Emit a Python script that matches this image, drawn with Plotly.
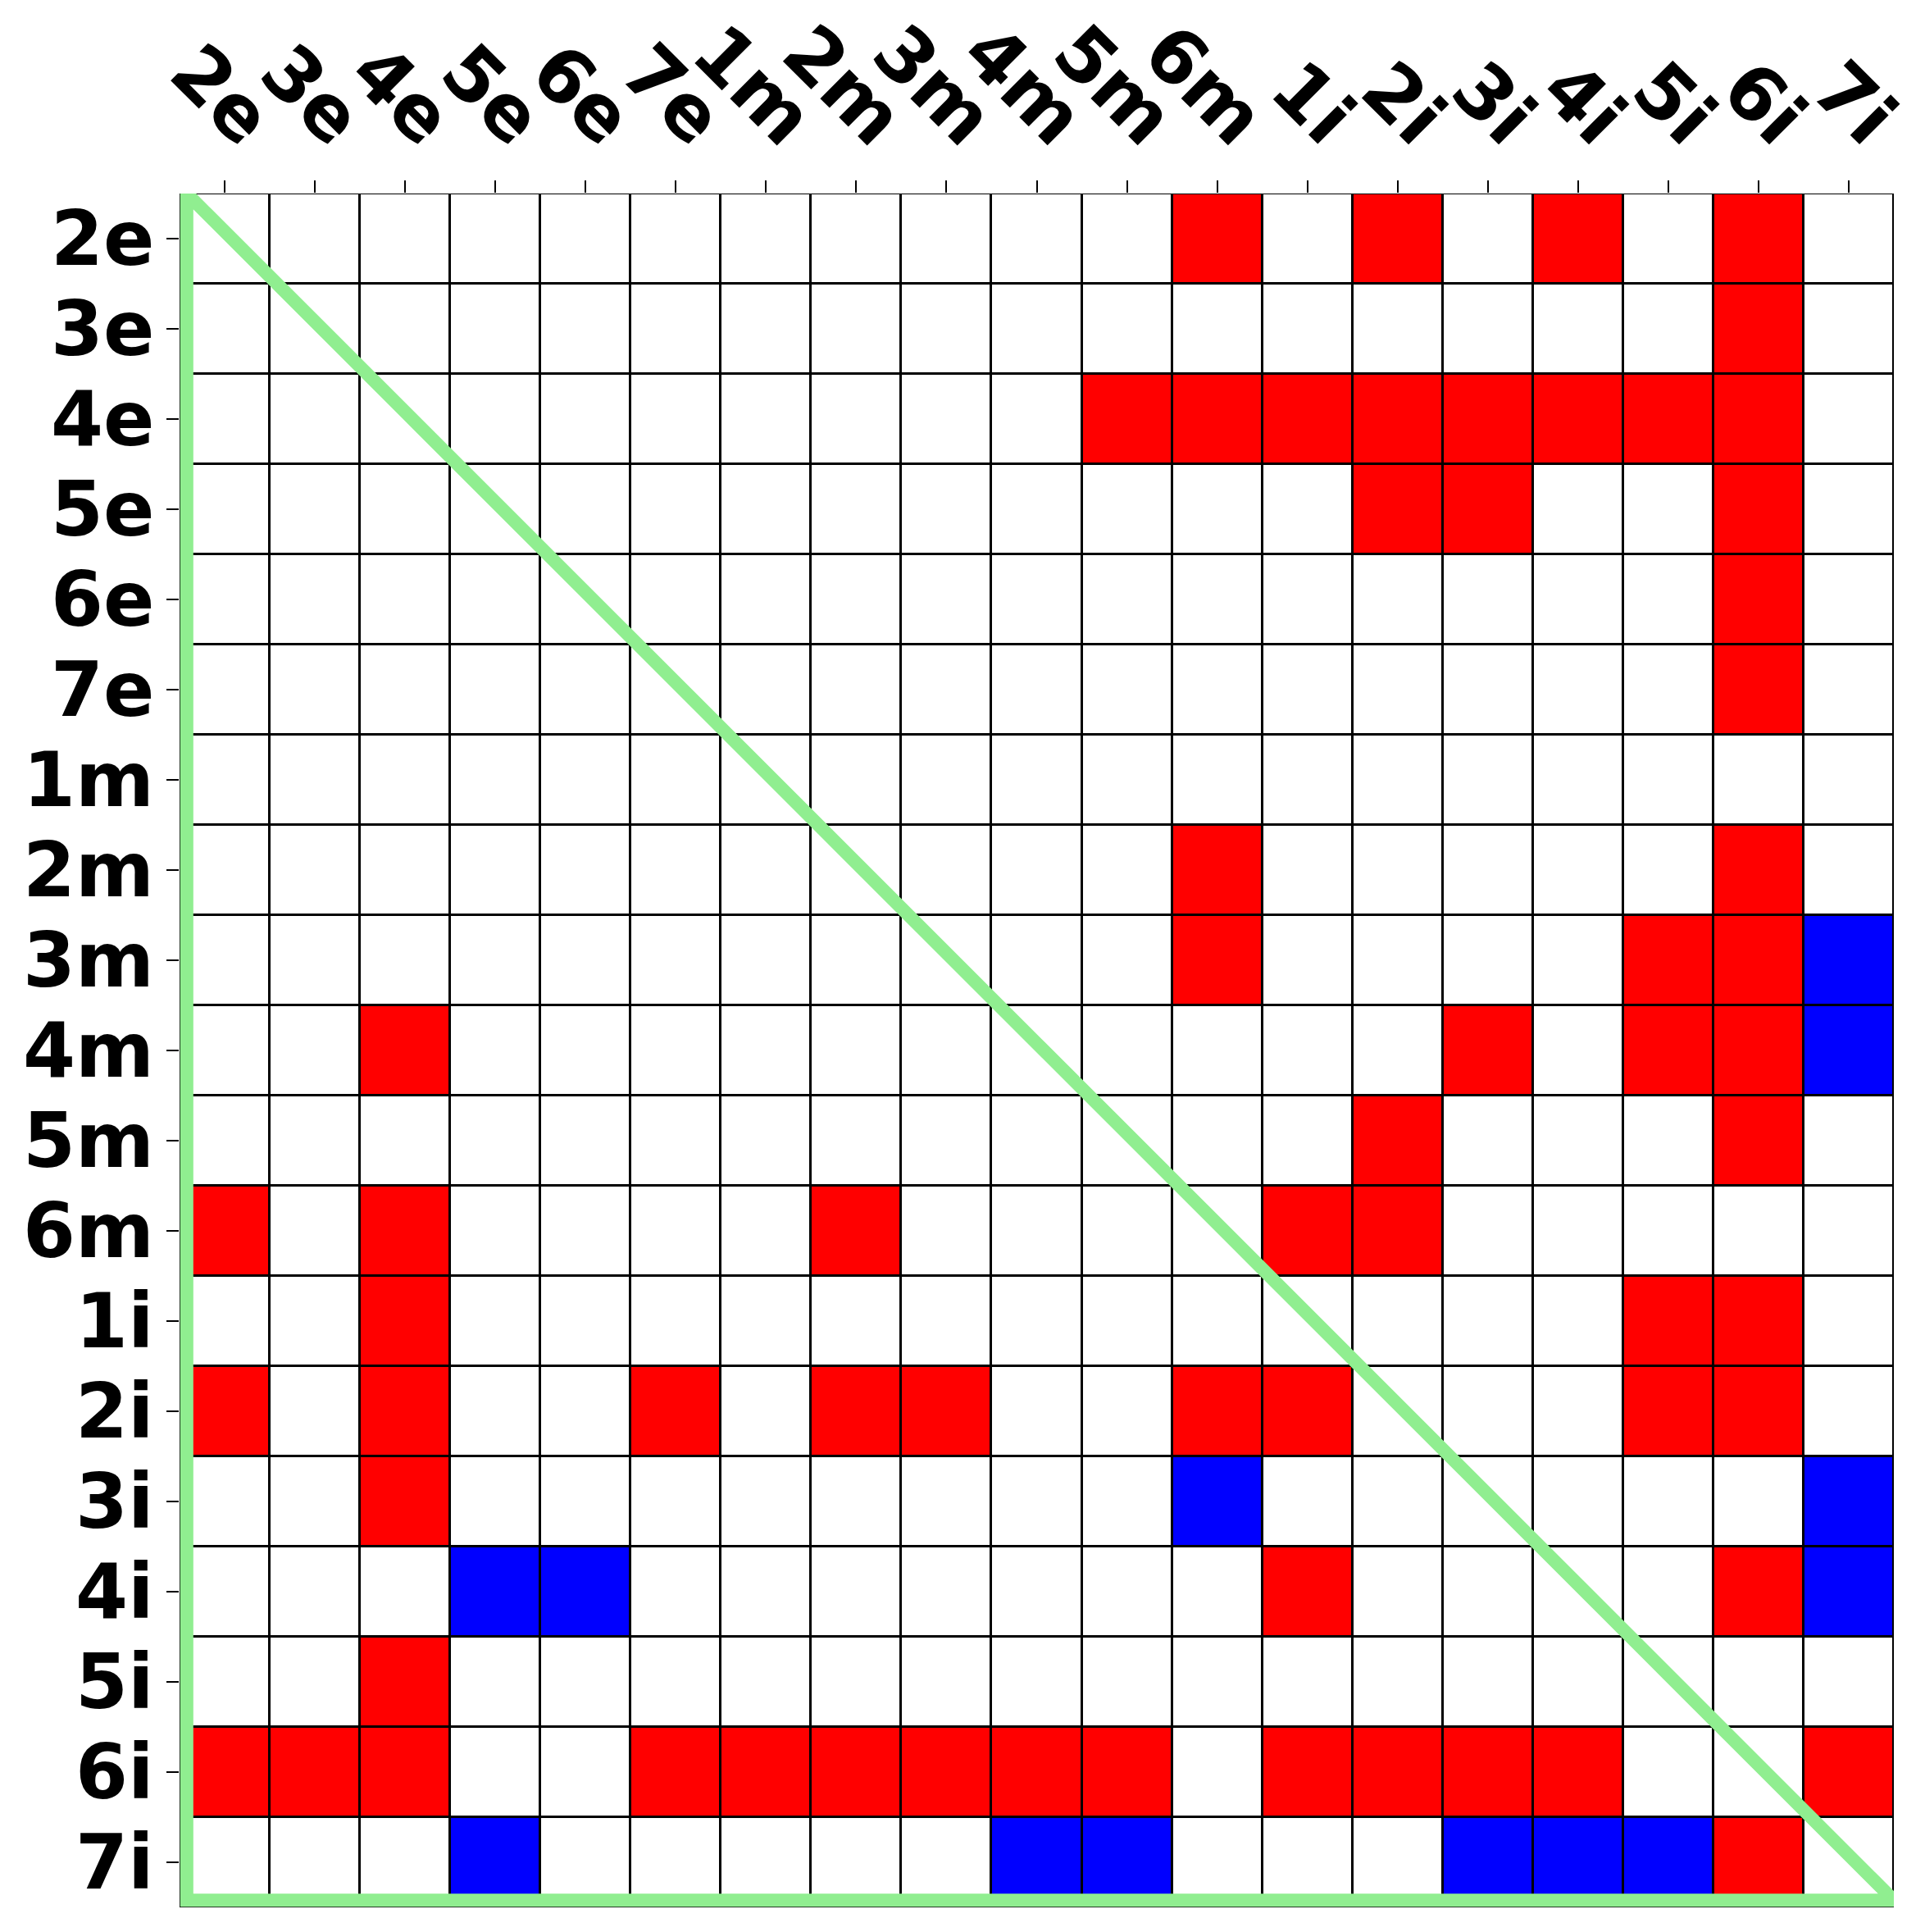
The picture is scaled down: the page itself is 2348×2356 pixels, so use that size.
import plotly.graph_objects as go

labels = ["2e", "3e", "4e", "5e", "6e", "7e",
          "1m", "2m", "3m", "4m", "5m", "6m",
          "1i", "2i", "3i", "4i", "5i", "6i", "7i"]

# 1 = red, -1 = blue, 0 = white ; rows follow labels top->bottom, columns left->right
row_2e = [0,0,0,0,0,0,0,0,0,0,0,1,0,1,0,1,0,1,0]
row_3e = [0,0,0,0,0,0,0,0,0,0,0,0,0,0,0,0,0,1,0]
row_4e = [0,0,0,0,0,0,0,0,0,0,1,1,1,1,1,1,1,1,0]
row_5e = [0,0,0,0,0,0,0,0,0,0,0,0,0,1,1,0,0,1,0]
row_6e = [0,0,0,0,0,0,0,0,0,0,0,0,0,0,0,0,0,1,0]
row_7e = [0,0,0,0,0,0,0,0,0,0,0,0,0,0,0,0,0,1,0]
row_1m = [0,0,0,0,0,0,0,0,0,0,0,0,0,0,0,0,0,0,0]
row_2m = [0,0,0,0,0,0,0,0,0,0,0,1,0,0,0,0,0,1,0]
row_3m = [0,0,0,0,0,0,0,0,0,0,0,1,0,0,0,0,1,1,-1]
row_4m = [0,0,1,0,0,0,0,0,0,0,0,0,0,0,1,0,1,1,-1]
row_5m = [0,0,0,0,0,0,0,0,0,0,0,0,0,1,0,0,0,1,0]
row_6m = [1,0,1,0,0,0,0,1,0,0,0,0,1,1,0,0,0,0,0]
row_1i = [0,0,1,0,0,0,0,0,0,0,0,0,0,0,0,0,1,1,0]
row_2i = [1,0,1,0,0,1,0,1,1,0,0,1,1,0,0,0,1,1,0]
row_3i = [0,0,1,0,0,0,0,0,0,0,0,-1,0,0,0,0,0,0,-1]
row_4i = [0,0,0,-1,-1,0,0,0,0,0,0,0,1,0,0,0,0,1,-1]
row_5i = [0,0,1,0,0,0,0,0,0,0,0,0,0,0,0,0,0,0,0]
row_6i = [1,1,1,0,0,1,1,1,1,1,1,0,1,1,1,1,0,0,1]
row_7i = [0,0,0,-1,0,0,0,0,0,-1,-1,0,0,0,-1,-1,-1,1,0]

matrix = [row_2e, row_3e, row_4e, row_5e, row_6e, row_7e,
          row_1m, row_2m, row_3m, row_4m, row_5m, row_6m,
          row_1i, row_2i, row_3i, row_4i, row_5i, row_6i, row_7i]

n = len(labels)
idx = list(range(n))

W, H = 2348, 2356
font = dict(family="DejaVu Sans", size=92, color="black", weight="bold")

fig = go.Figure()
fig.add_trace(go.Heatmap(
    z=matrix, x=idx, y=idx,
    zmin=-1, zmax=1,
    colorscale=[[0, "#0000ff"], [0.5, "#ffffff"], [1, "#ff0000"]],
    showscale=False, xgap=3, ygap=3, hoverinfo="skip",
))

# green triangle outlining lower-left half
lo, hi = -0.5, n - 0.5
d = 0.08
fig.add_trace(go.Scatter(
    x=[lo + d, lo + d, hi, lo + d],
    y=[lo, hi - d, hi - d, lo],
    mode="lines",
    line=dict(color="#90ee90", width=16),
    cliponaxis=False, hoverinfo="skip", showlegend=False,
))

# rotated column labels above the top axis
for i, lab in zip(idx, labels):
    fig.add_annotation(
        x=i, y=1, xref="x", yref="paper", text=lab, showarrow=False,
        textangle=45, font=font, xanchor="right", yanchor="bottom",
        xshift=80, yshift=37, borderpad=0,
    )

# row labels left of the axis
for i, lab in zip(idx, labels):
    fig.add_annotation(
        x=0, y=i, xref="paper", yref="y", text=lab, showarrow=False,
        font=font, xanchor="right", yanchor="middle",
        xshift=-30, yshift=0, borderpad=0,
    )

fig.update_layout(
    width=W, height=H,
    margin=dict(l=219, r=38, t=236, b=30, pad=0),
    plot_bgcolor="black", paper_bgcolor="white",
    showlegend=False,
)
fig.update_xaxes(
    side="top", range=[lo, hi], tickmode="array", tickvals=idx,
    showticklabels=False, ticks="outside", ticklen=15, tickwidth=2,
    tickcolor="black", showgrid=False, zeroline=False, showline=False,
)
fig.update_yaxes(
    range=[hi, lo], tickmode="array", tickvals=idx,
    showticklabels=False, ticks="outside", ticklen=15, tickwidth=2,
    tickcolor="black", showgrid=False, zeroline=False, showline=False,
)

fig.write_html("out.html")
